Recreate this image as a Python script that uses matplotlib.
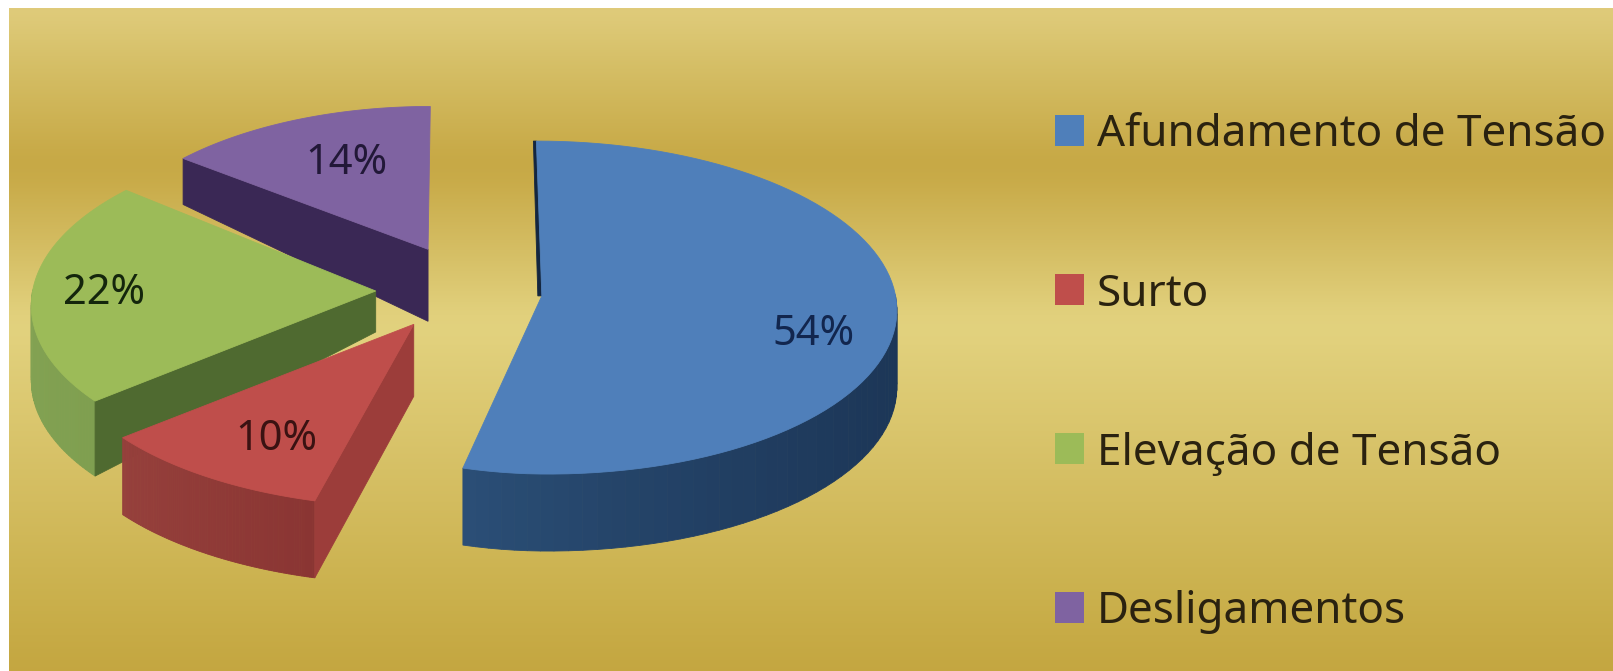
"""
Exploded 3D-look pie chart on a gold gradient background.
"""
import matplotlib
matplotlib.use("Agg")
import matplotlib.pyplot as plt
import numpy as np
from matplotlib.colors import to_rgb
from matplotlib.patches import Polygon, Rectangle

categories = ["Afundamento de Tensão", "Surto", "Elevação de Tensão", "Desligamentos"]
values = [54, 10, 22, 14]

top_colors = ["#4f7fba", "#bf4e4b", "#9cbb58", "#7f63a1"]
rim_near_colors = ["#1c3657", "#8a3533", "#7f9f50", "#7f63a1"]
rim_far_colors = ["#2b4f77", "#96403c", "#88a656", "#7f63a1"]
face_colors = ["#14263f", "#9c3d3a", "#4f6a30", "#3a2855"]
text_colors = ["#12264e", "#3a1212", "#14260c", "#221838"]
depth_apex = [77, 72, 41, 72]
depth_rim = [77, 77, 75, 46]
left_squash = [0.9, 1.0, 0.972, 0.96]
slice_dx = [0, 0, 0, 4]
apex_dy = [0, 0, 0, -7]
label_radius = [0.78, 0.74, 0.77, 0.56]
label_dx = [-5, 13, 0, 1]
label_dy = [22, 4, 2, -15]

bg_stops_y = [8, 60, 165, 240, 322, 470, 600, 671]
bg_stops_c = ["#e0cc7c", "#d6c068", "#c6a743", "#d3bb60", "#e3d380", "#d6c065", "#cab04c", "#c4a640"]

W, H = 1613, 671
CX, CY = 459, 291
A, B = 353, 165
PERSP = 0.07
EXPLODE = 0.236


def project(u, v):
    s = 1 / (1 + PERSP * v)
    return CX + A * u * s, CY - B * v * s


def blend(c1, c2, t):
    c1, c2 = np.array(to_rgb(c1)), np.array(to_rgb(c2))
    return tuple(c1 + (c2 - c1) * t)


def draw_slice(ax, i, a0, a1):
    mid = np.radians((a0 + a1) / 2)
    ou, ov = EXPLODE * np.sin(mid), EXPLODE * np.cos(mid)
    angles = np.radians(np.linspace(a0, a1, 90))
    rim = []
    for a in angles:
        du = np.sin(a) * (left_squash[i] if np.sin(a) < 0 else 1)
        rim.append(project(ou + du, ov + np.cos(a)))
    rim = np.array(rim) + [slice_dx[i], 0]
    apex = np.array(project(ou, ov)) + [slice_dx[i], apex_dy[i]]
    d_apex, d_rim = depth_apex[i], depth_rim[i]

    # outer wall, only the part turned to the viewer
    visible_from = max(a0, 90)
    for k in range(len(rim) - 1):
        a_mid = np.degrees((angles[k] + angles[k + 1]) / 2)
        if a_mid < 90 or a_mid > 270:
            continue
        t = (a_mid - visible_from) / max(a1 - visible_from, 1)
        col = blend(rim_near_colors[i], rim_far_colors[i], t ** 2 if i == 0 else t)
        quad = [rim[k], rim[k + 1], rim[k + 1] + [0, d_rim], rim[k] + [0, d_rim]]
        ax.add_patch(Polygon(quad, closed=True, fc=col, ec=col, lw=0.6, zorder=2))

    # cut faces
    if i == 0:
        face = [rim[0], apex, apex + [-4, 0], rim[0] + [-3, 0]]
    else:
        face = [rim[0], apex, apex + [0, d_apex], rim[0] + [0, d_rim]]
    ax.add_patch(Polygon(face, closed=True, fc=face_colors[i], ec=face_colors[i], lw=0.6, zorder=2))

    top = np.vstack([apex, rim])
    ax.add_patch(Polygon(top, closed=True, fc=top_colors[i], ec=top_colors[i], lw=0.6, zorder=2))

    r = label_radius[i]
    lx, ly = project(ou + r * np.sin(mid), ov + r * np.cos(mid))
    ax.text(lx + label_dx[i], ly + label_dy[i], f"{values[i]}%", ha="center", va="center",
            fontsize=30, color=text_colors[i], family="Noto Sans", zorder=5)


fig = plt.figure(figsize=(W / 100, H / 100), dpi=100)
ax = fig.add_axes([0, 0, 1, 1])
ax.axis("off")

rows = np.arange(8, H + 1)
stops = np.array([to_rgb(c) for c in bg_stops_c])
grad = np.stack([np.interp(rows, bg_stops_y, stops[:, j]) for j in range(3)], axis=1)
# soften the creases between stops
kernel = np.ones(41) / 41
padded = np.pad(grad, ((20, 20), (0, 0)), mode="edge")
grad = np.stack([np.convolve(padded[:, j], kernel, mode="valid") for j in range(3)], axis=1)
ax.imshow(grad[:, None, :], extent=[9, W, H, 8], aspect="auto", zorder=0)
ax.set_xlim(0, W)
ax.set_ylim(H, 0)

# slices clockwise from 12 o'clock
total = sum(values)
edges = np.cumsum([0] + values) / total * 360
for i in [3, 2, 1, 0]:
    draw_slice(ax, i, edges[i], edges[i + 1])

# legend
for i, name in enumerate(categories):
    yc = 130 + i * 159
    ax.add_patch(Rectangle((1055, yc - 15.5), 29, 31, fc=top_colors[i], ec="none", zorder=3))
    ax.text(1097, yc, name, ha="left", va="center_baseline", fontsize=31.7,
            color="#2a2210", family="Noto Sans", zorder=5)

fig.savefig("out.png", dpi=100)
